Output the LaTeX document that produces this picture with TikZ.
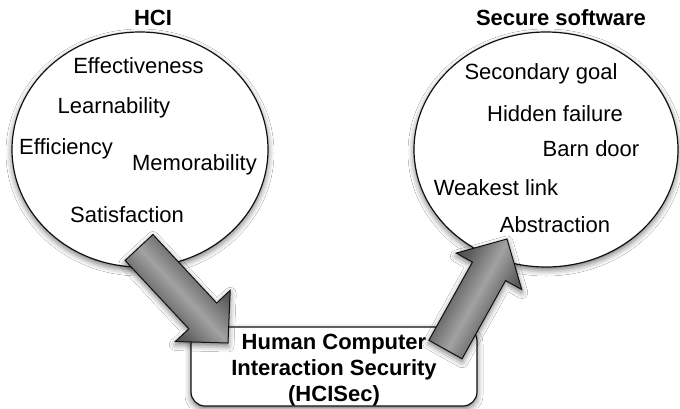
\documentclass[tikz,border=0pt]{standalone}
\usepackage{fontspec}
\setmainfont{Liberation Sans}
\usetikzlibrary{calc,shapes.geometric,shadows.blur}

\definecolor{inkline}{HTML}{111111}
\definecolor{agdark}{HTML}{3E3E3E}
\definecolor{agmid}{HTML}{5A5A5A}
\definecolor{aglight}{HTML}{A2A2A2}

% grey band shading across the shaft of the block arrows
\pgfdeclarehorizontalshading{arrowgrad}{100bp}{%
  color(0bp)=(agdark); color(22bp)=(agdark); color(36bp)=(agmid);
  color(50bp)=(aglight); color(64bp)=(agmid); color(78bp)=(agdark);
  color(100bp)=(agdark)}

\tikzset{
  softshadow/.style={blur shadow={shadow xshift=0pt, shadow yshift=-3pt,
      shadow blur radius=6pt, shadow opacity=55}},
  bubble/.style={ellipse, draw=inkline, line width=1.2pt, fill=white,
      inner sep=0pt, softshadow},
  panel/.style={rectangle, rounded corners=14pt, draw=inkline,
      line width=1.2pt, fill=white, inner sep=0pt, softshadow},
  term/.style={font=\fontsize{22}{26}\selectfont, inner sep=0pt,
      anchor=base},
  title/.style={term, font=\fontsize{22}{26}\selectfont\bfseries},
  boxtext/.style={font=\fontsize{22}{26}\selectfont\bfseries,
      align=center, inner sep=0pt},
  fatarrow/.style={draw=inkline, line width=1pt, line join=miter,
      shading=arrowgrad, softshadow},
}

% block arrow from tail coordinate #1 to tip coordinate #2, shading angle #3
\newcommand\blockarrow[3]{%
  \coordinate (#1-h) at ($(#2)!37pt!(#1)$);
  \path[fatarrow, shading angle=#3]
    ($(#1)!19pt!90:(#2)$) --
    ($(#1-h)!19pt!90:(#2)$) --
    ($(#1-h)!37.5pt!90:(#2)$) --
    (#2) --
    ($(#1-h)!37.5pt!-90:(#2)$) --
    ($(#1-h)!19pt!-90:(#2)$) --
    ($(#1)!19pt!-90:(#2)$) -- cycle;
}

\begin{document}
\begin{tikzpicture}[x=1pt, y=-1pt]
  \useasboundingbox[fill=white] (0,0) rectangle (680,408);

  % the two bubbles
  \node[bubble, minimum width=256pt, minimum height=235pt] (hci) at (140,149.5) {};
  \node[bubble, minimum width=264pt, minimum height=235pt] (soft) at (546,149.5) {};

  % headings
  \node[title] (hcititle) at (153,25) {HCI};
  \node[title] (softtitle) at (561,25) {Secure software};

  % HCI terms
  \node[term] (eff) at (138.5,73) {Effectiveness};
  \node[term] (lea) at (114,113) {Learnability};
  \node[term] (efc) at (66,154) {Efficiency};
  \node[term] (mem) at (194.5,170) {Memorability};
  \node[term] (sat) at (127,222.5) {Satisfaction};

  % secure software principles
  \node[term] (sec) at (541,79) {Secondary goal};
  \node[term] (hid) at (555,121.5) {Hidden failure};
  \node[term] (barn) at (591,156.5) {Barn door};
  \node[term] (weak) at (496,195) {Weakest link};
  \node[term] (abs) at (555,232) {Abstraction};

  % the combined field
  \node[panel, minimum width=286pt, minimum height=79pt] (hcisec) at (334,366.5) {};
  \node[boxtext] (hcisecl) at (334,370.2) {Human Computer\\Interaction Security\\(HCISec)};

  % block arrows
  \coordinate (in-tail) at (139,247.5);
  \coordinate (in-tip) at (228,343);
  \coordinate (out-tail) at (445.5,349.5);
  \coordinate (out-tip) at (507,239);
  \blockarrow{in-tail}{in-tip}{43}
  \blockarrow{out-tail}{out-tip}{-29}
\end{tikzpicture}
\end{document}
